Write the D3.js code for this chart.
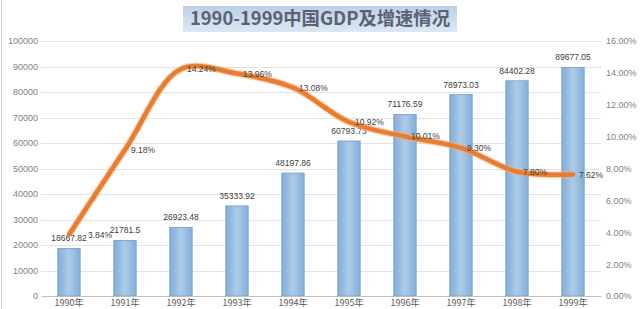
<!DOCTYPE html>
<html><head><meta charset="utf-8">
<script src="https://cdn.jsdelivr.net/npm/d3@7"></script>
<style>body{margin:0;background:#fff}svg{display:block}</style>
</head><body><svg id="c" width="640" height="309"></svg>
<script>
const categories = ["1990年","1991年","1992年","1993年","1994年","1995年","1996年","1997年","1998年","1999年"];
const gdpValues = [18667.82,21781.5,26923.48,35333.92,48197.86,60793.73,71176.59,78973.03,84402.28,89677.05];
const gdpLabels = ["18667.82","21781.5","26923.48","35333.92","48197.86","60793.73","71176.59","78973.03","84402.28","89677.05"];
const growthValues = [3.84,9.18,14.24,13.96,13.08,10.92,10.01,9.30,7.80,7.62];
const leftTicks = [0,10000,20000,30000,40000,50000,60000,70000,80000,90000,100000];
const rightTicks = [0,2,4,6,8,10,12,14,16];
const title = "1990-1999中国GDP及增速情况";

const svg = d3.select("#c");
const W=640,H=309;
const m={l:41,r:39,t:41,b:13};
const x0=m.l, x1=W-m.r, y0=H-m.b, y1=m.t;

const defs=svg.append("defs");
const g1=defs.append("linearGradient").attr("id","tg").attr("x1",0).attr("y1",0).attr("x2",0).attr("y2",1);
g1.append("stop").attr("offset","0").attr("stop-color","#bcd0e8");
g1.append("stop").attr("offset","1").attr("stop-color","#dde7f3");
const g2=defs.append("linearGradient").attr("id","bg").attr("x1",0).attr("y1",0).attr("x2",1).attr("y2",0);
g2.append("stop").attr("offset","0").attr("stop-color","#82add8");
g2.append("stop").attr("offset","0.5").attr("stop-color","#adcbe8");
g2.append("stop").attr("offset","1").attr("stop-color","#82add8");

// frame
svg.append("line").attr("x1",1.5).attr("x2",1.5).attr("y1",0).attr("y2",H).attr("stroke","#d0d0d0");

const x=d3.scaleBand().domain(categories).range([x0,x1]).paddingInner(0.6).paddingOuter(0.3);
const yL=d3.scaleLinear().domain([0,100000]).range([y0,y1]);
const yR=d3.scaleLinear().domain([0,16]).range([y0,y1]);

// gridlines
svg.append("g").selectAll("line").data(leftTicks.slice(1)).join("line")
  .attr("x1",x0).attr("x2",x1).attr("y1",d=>Math.round(yL(d))+0.5).attr("y2",d=>Math.round(yL(d))+0.5)
  .attr("stroke","#e3e3e3");

// left axis
const axL=svg.append("g").attr("transform",`translate(${x0},0)`)
  .call(d3.axisLeft(yL).tickValues(leftTicks).tickSize(0).tickPadding(3).tickFormat(d3.format("d")));
axL.select(".domain").remove();
axL.selectAll("text").attr("fill","#7f7f7f").style("font-family","Liberation Sans, Arial").style("font-size","9px");

// right axis
const axR=svg.append("g").attr("transform",`translate(${x1},0)`)
  .call(d3.axisRight(yR).tickValues(rightTicks).tickSize(0).tickPadding(5).tickFormat(d=>d.toFixed(2)+"%"));
axR.select(".domain").remove();
axR.selectAll("text").attr("fill","#7f7f7f").style("font-family","Liberation Sans, Arial").style("font-size","9px");

// bars
svg.append("g").selectAll("rect").data(gdpValues).join("rect")
  .attr("x",(d,i)=>x(categories[i])).attr("width",x.bandwidth())
  .attr("y",d=>yL(d)).attr("height",d=>y0-yL(d))
  .attr("fill","url(#bg)").attr("stroke","#6f9fcf").attr("stroke-width",0.8);

// x axis
const axB=svg.append("g").attr("transform",`translate(0,${y0})`)
  .call(d3.axisBottom(x).tickSize(0).tickPadding(4));
axB.select(".domain").attr("stroke","#bfbfbf");
axB.selectAll("text").attr("fill","#595959").style("font-family","Noto Sans CJK SC").style("font-size","9px");

// bar labels
svg.append("g").selectAll("text").data(gdpValues).join("text")
  .attr("x",(d,i)=>x(categories[i])+x.bandwidth()/2).attr("y",d=>yL(d)-7)
  .attr("text-anchor","middle").attr("fill","#404040")
  .style("font-family","Liberation Sans, Arial").style("font-size","8.5px")
  .text((d,i)=>gdpLabels[i]);

// line
const cx=(i)=>x(categories[i])+x.bandwidth()/2;
const line=d3.line().x((d,i)=>cx(i)).y(d=>yR(d)).curve(d3.curveCatmullRom.alpha(0.5));
svg.append("path").datum(growthValues).attr("d",line)
  .attr("fill","none").attr("stroke","#f4b183").attr("stroke-width",7).attr("stroke-linejoin","round").attr("opacity",0.6);
svg.append("path").datum(growthValues).attr("d",line)
  .attr("fill","none").attr("stroke","#e87d2f").attr("stroke-width",4.5).attr("stroke-linejoin","round").attr("stroke-linecap","round");

// line labels
svg.append("g").selectAll("text").data(growthValues).join("text")
  .attr("x",(d,i)=>cx(i)+(i===0?19:6)).attr("y",d=>yR(d)+3)
  .attr("fill","#404040")
  .style("font-family","Liberation Sans, Arial").style("font-size","8.5px")
  .text(d=>d.toFixed(2)+"%");

// title
svg.append("rect").attr("x",183).attr("y",6).attr("width",274).attr("height",26).attr("fill","url(#tg)");
svg.append("text").attr("x",320).attr("y",25).attr("text-anchor","middle")
  .attr("fill","#586270").style("font-family","Noto Sans CJK SC").style("font-weight","bold").style("font-size","18px")
  .attr("textLength",260).attr("lengthAdjust","spacingAndGlyphs")
  .text(title);
</script></body></html>
